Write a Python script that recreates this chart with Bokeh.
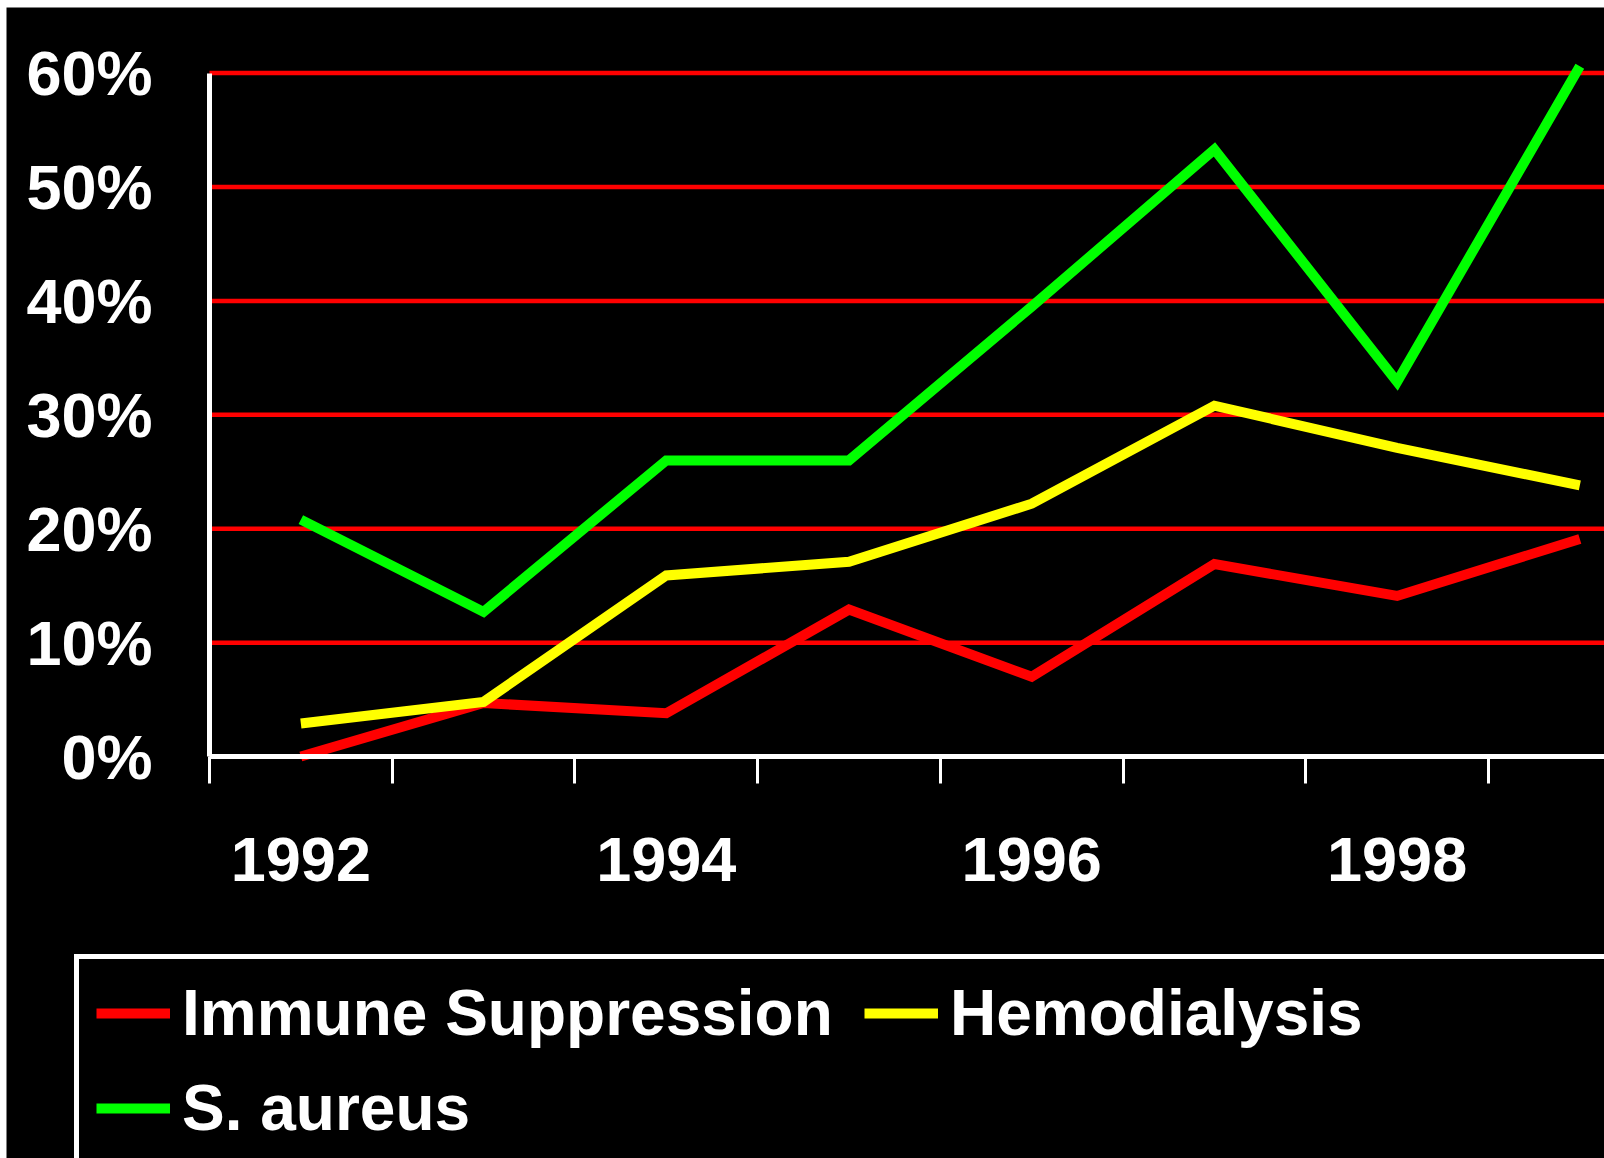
from bokeh.plotting import figure
from bokeh.models import Range1d, FixedTicker, Legend, LegendItem
from bokeh.embed import file_html
from bokeh.resources import INLINE

# ---- data ----
years = [1992, 1993, 1994, 1995, 1996, 1997, 1998, 1999]
immune_suppression = [0.0, 4.7, 3.8, 12.9, 7.0, 16.9, 14.1, 19.1]
hemodialysis = [2.9, 4.8, 15.9, 17.1, 22.2, 30.8, 27.1, 23.8]
s_aureus = [20.8, 12.7, 26.0, 26.0, 39.5, 53.3, 32.9, 60.6]

series_names = ["Immune Suppression", "Hemodialysis", "S. aureus"]
series_colors = ["#FF0000", "#FFFF00", "#00FF00"]
y_ticks = [0, 10, 20, 30, 40, 50, 60]
y_tick_labels = ["0%", "10%", "20%", "30%", "40%", "50%", "60%"]
x_label_years = [1992, 1994, 1996, 1998]
x_label_text = ["1992", "1994", "1996", "1998"]
x_boundaries = [1991.5, 1992.5, 1993.5, 1994.5, 1995.5, 1996.5, 1997.5, 1998.5]

FONT = "Liberation Sans"
LW = 10
X_START, X_END = 1990.389, 1999.135
Y_START, Y_END = -35.29, 65.76

p = figure(width=1598, height=1151, output_backend="svg", toolbar_location=None,
           x_range=Range1d(X_START, X_END), y_range=Range1d(Y_START, Y_END),
           min_border=0, min_border_left=0, min_border_right=0,
           min_border_top=0, min_border_bottom=0)
p.margin = (7, 0, 0, 6)
p.background_fill_color = "black"
p.border_fill_color = "black"
p.outline_line_color = None

xa = p.xaxis[0]
xa.fixed_location = 0
xa.bounds = (x_boundaries[0], X_END)
xa.ticker = FixedTicker(ticks=x_label_years, minor_ticks=x_boundaries)
xa.major_label_overrides = {y: t for y, t in zip(x_label_years, x_label_text)}
xa.axis_line_color = "white"
xa.axis_line_width = 5
xa.major_tick_line_color = None
xa.major_tick_in = 0
xa.major_tick_out = 0
xa.minor_tick_line_color = "white"
xa.minor_tick_line_width = 3
xa.minor_tick_in = 0
xa.minor_tick_out = 27
xa.major_label_standoff = 54
xa.major_label_text_color = "white"
xa.major_label_text_font = FONT
xa.major_label_text_font_style = "bold"
xa.major_label_text_font_size = "63px"

ya = p.yaxis[0]
ya.fixed_location = x_boundaries[0]
ya.ticker = FixedTicker(ticks=y_ticks, minor_ticks=[])
ya.major_label_overrides = {t: l for t, l in zip(y_ticks, y_tick_labels)}
ya.bounds = (0, 60)
ya.axis_line_color = "white"
ya.axis_line_width = 5
ya.major_tick_line_color = None
ya.major_tick_in = 0
ya.major_tick_out = 0
ya.minor_tick_line_color = None
ya.major_label_standoff = 57
ya.major_label_text_color = "white"
ya.major_label_text_font = FONT
ya.major_label_text_font_style = "bold"
ya.major_label_text_font_size = "63px"

p.xgrid.grid_line_color = None
p.ygrid.grid_line_color = None
# horizontal red grid lines, starting at the y axis
p.segment(x0=[x_boundaries[0]] * len(y_ticks), x1=[X_END] * len(y_ticks),
          y0=y_ticks, y1=y_ticks, line_color="#FF0000", line_width=4.5)

r1 = p.line(years, immune_suppression, line_color=series_colors[0], line_width=LW, line_join="miter")
r2 = p.line(years, hemodialysis, line_color=series_colors[1], line_width=LW, line_join="miter")
r3 = p.line(years, s_aureus, line_color=series_colors[2], line_width=LW, line_join="miter")

legend = Legend(items=[LegendItem(label=series_names[0], renderers=[r1]),
                       LegendItem(label=series_names[1], renderers=[r2]),
                       LegendItem(label=series_names[2], renderers=[r3])],
                location=(68, -9), orientation="horizontal", ncols=2,
                margin=0, padding=17, spacing=21,
                glyph_width=74, glyph_height=20, label_standoff=12, label_width=661,
                label_text_color="white", label_text_font=FONT,
                label_text_font_style="bold", label_text_font_size="64px",
                border_line_color="white", border_line_width=5, border_line_alpha=1.0,
                background_fill_color="black", background_fill_alpha=1.0)
p.add_layout(legend)

open("out.html", "w").write(file_html(p, INLINE))
